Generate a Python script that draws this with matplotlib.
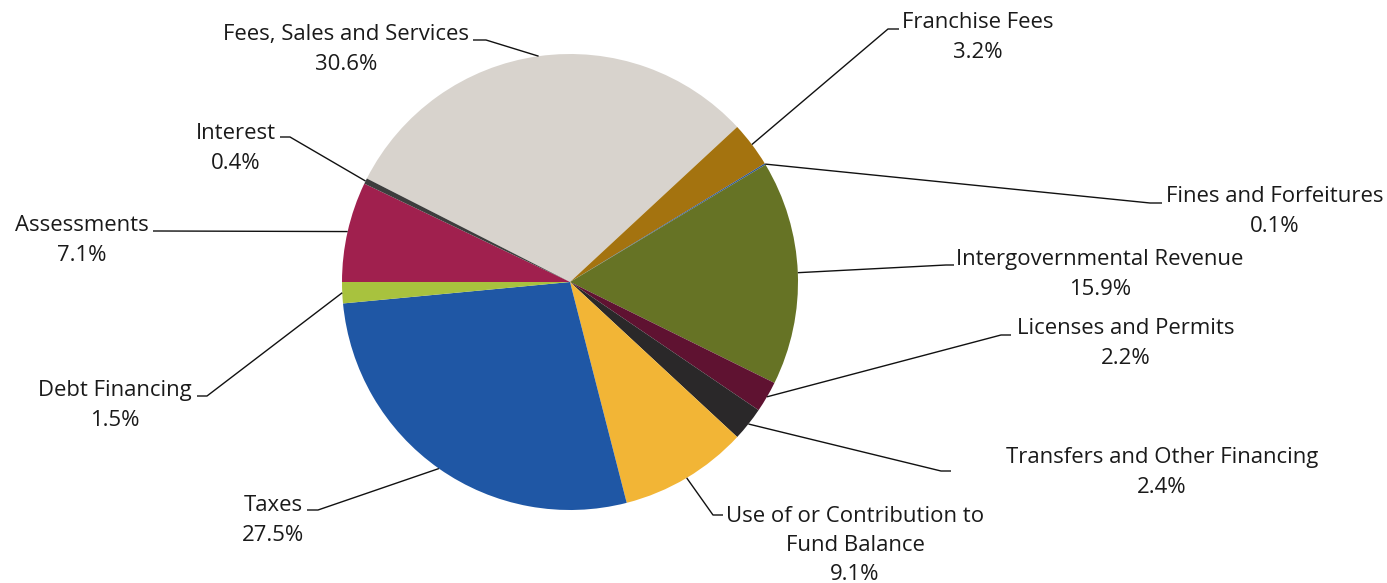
import numpy as np
import matplotlib
matplotlib.use("Agg")
import matplotlib.pyplot as plt

# Revenue sources and their shares (percent)
categories = [
    "Fees, Sales and Services", "Franchise Fees", "Fines and Forfeitures",
    "Intergovernmental Revenue", "Licenses and Permits",
    "Transfers and Other Financing", "Use of or Contribution to\nFund Balance",
    "Taxes", "Debt Financing", "Assessments", "Interest",
]
shares = [30.6, 3.2, 0.1, 15.9, 2.2, 2.4, 9.1, 27.5, 1.5, 7.1, 0.4]
colors = [
    "#D8D3CD", "#A4730F", "#2B5597", "#667325", "#5F1231", "#2A2829",
    "#F2B536", "#1F57A5", "#A8C23E", "#A0204E", "#3D3D3D",
]

W, H = 1387, 583
CX, CY, R = 570, 282, 228

# label layout in pixel units (y measured from top):
# (text x, text y, elbow x, elbow y, segment end x)
layout = [
    (346, 49.5, 486, 40, 473),
    (978, 37.5, 888, 29, 899),
    (1275, 211.5, 1150, 203, 1162),
    (1100, 274.5, 946, 265, 954),
    (1126, 343.5, 1001, 335, 1011),
    (1162, 472.5, 941, 471, 951),
    (855, 545.5, 713, 515, 723),
    (273, 520.5, 318, 510, 307),
    (115, 405.5, 207, 396, 197),
    (82, 240.5, 160, 231, 153),
    (236, 148.5, 290, 137, 280),
]

plt.rcParams["font.family"] = ["Open Sans", "DejaVu Sans"]

fig = plt.figure(figsize=(W / 100, H / 100), dpi=100)
ax = fig.add_axes([0, 0, 1, 1])


def fy(y):
    return H - y


wedges, _ = ax.pie(
    shares, colors=colors, startangle=153, counterclock=False,
    center=(CX, fy(CY)), radius=R, wedgeprops=dict(linewidth=0),
)
ax.set_xlim(0, W)
ax.set_ylim(0, H)
ax.set_aspect("equal")
ax.set_axis_off()

for w, name, val, (tx, ty, ex, ey, hx) in zip(wedges, categories, shares, layout):
    mid = np.deg2rad((w.theta1 + w.theta2) / 2)
    px = CX + R * np.cos(mid)
    py = fy(CY) + R * np.sin(mid)
    ax.plot([px, ex, hx], [py, fy(ey), fy(ey)], color="#111111", lw=1.0,
            solid_capstyle="butt", zorder=3)
    ax.text(tx, fy(ty), f"{name}\n{val:.1f}%", ha="center", va="center",
            ma="center", fontsize=15.9, color="#1a1a1a", linespacing=1.51)

fig.savefig("out.png", dpi=100)
